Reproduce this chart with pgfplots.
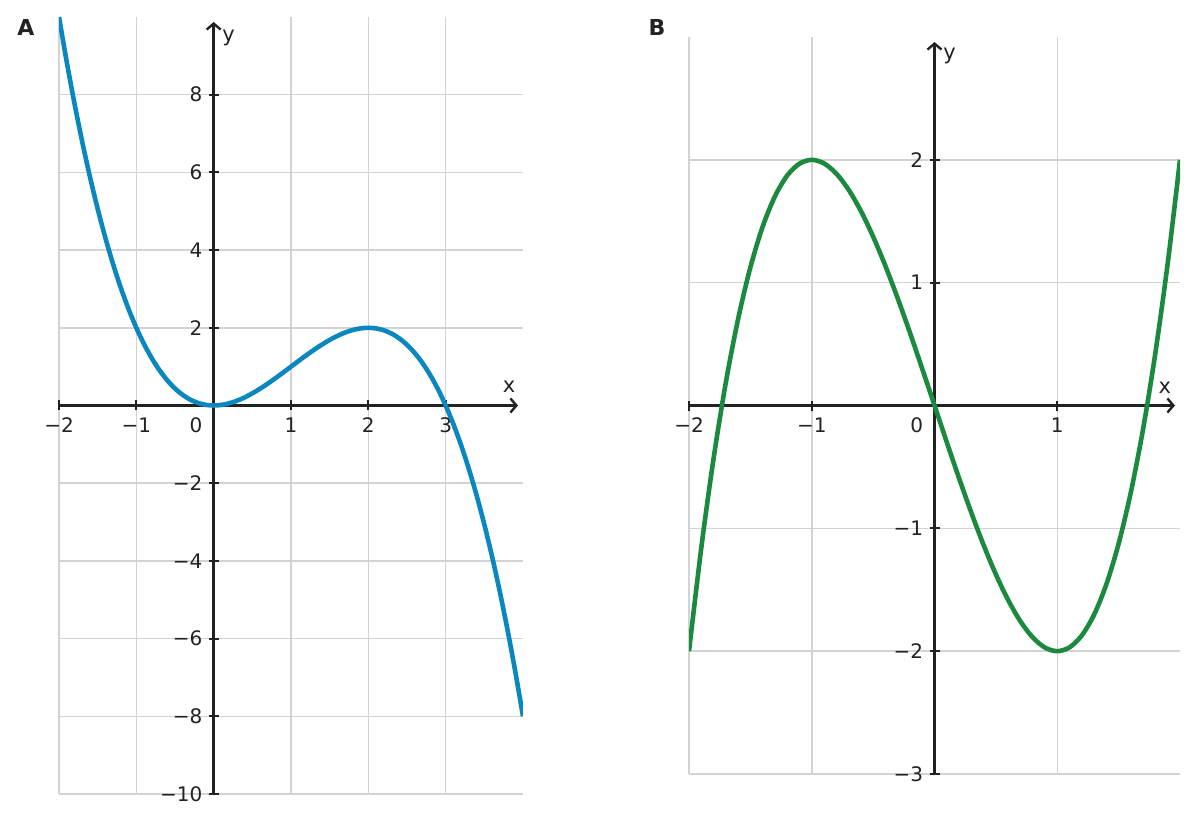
\documentclass[border=0pt]{standalone}
\usepackage{pgfplots}
\pgfplotsset{compat=1.18}
\usepackage{fontspec}
\setmainfont{DejaVu Sans}
\usetikzlibrary{arrows.meta}

\definecolor{ink}{HTML}{222222}
\definecolor{gridgray}{HTML}{D3D3D3}
\definecolor{curveblue}{HTML}{0A87BF}
\definecolor{curvegreen}{HTML}{1B8A3E}

\pgfplotsset{
  panel/.style={
    scale only axis,
    axis lines=middle,
    x axis line style={ink, line width=1.35pt, -{Straight Barb[length=3pt,width=7pt,line width=1.2pt]}, shorten >=2.5pt},
    y axis line style={ink, line width=1.35pt, -{Straight Barb[length=3pt,width=7pt,line width=1.2pt]}, shorten >=2.5pt},
    grid=major,
    major grid style={gridgray, line width=0.75pt},
    major tick style={ink, line width=1pt},
    major tick length=5pt,
    tick align=center,
    ticklabel style={font=\fontsize{10}{12}\selectfont, text=ink, inner sep=0pt},
    xticklabel style={anchor=north, yshift=-3.5pt},
    yticklabel style={anchor=east, xshift=-3pt},
    label style={font=\fontsize{10.5}{12}\selectfont, text=ink, inner sep=0pt},
    clip=true,
  },
}

\begin{document}
\begin{tikzpicture}
\useasboundingbox (0,0) rectangle (598.5pt,-411.5pt);

% panel A
\begin{axis}[panel,
  at={(29.5pt,-8.5pt)}, anchor=north west,
  width=232pt, height=388.5pt,
  xmin=-2, xmax=4, ymin=-10, ymax=10,
  xtick={-2,-1,0,1,2,3},
  xticklabels={−2,−1,,1,2,3},
  ytick={-10,-8,-6,-4,-2,0,2,4,6,8},
  yticklabels={−10,−8,−6,−4,−2,,2,4,6,8},
  xlabel={x}, xlabel style={at={(rel axis cs:0.970,0.5)}, anchor=base, yshift=6.5pt},
  ylabel={y}, ylabel style={at={(rel axis cs:0.351,0.969)}, anchor=base west, rotate=0},
]
\addplot[curveblue, line width=2.3pt, smooth] coordinates {
  (-2.0,10) (-1.9,8.8445) (-1.8,7.776) (-1.7,6.7915) (-1.6,5.888) (-1.5,5.0625)
  (-1.4,4.312) (-1.3,3.6335) (-1.2,3.024) (-1.1,2.4805) (-1.0,2)
  (-0.9,1.5795) (-0.8,1.216) (-0.7,0.9065) (-0.6,0.648) (-0.5,0.4375)
  (-0.4,0.272) (-0.3,0.1485) (-0.2,0.064) (-0.1,0.0155) (0,0)
  (0.1,0.0145) (0.2,0.056) (0.3,0.1215) (0.4,0.208) (0.5,0.3125)
  (0.6,0.432) (0.7,0.5635) (0.8,0.704) (0.9,0.8505) (1.0,1)
  (1.1,1.1495) (1.2,1.296) (1.3,1.4365) (1.4,1.568) (1.5,1.6875)
  (1.6,1.792) (1.7,1.8785) (1.8,1.944) (1.9,1.9855) (2.0,2)
  (2.1,1.9845) (2.2,1.936) (2.3,1.8515) (2.4,1.728) (2.5,1.5625)
  (2.6,1.352) (2.7,1.0935) (2.8,0.784) (2.9,0.4205) (3.0,0)
  (3.1,-0.4805) (3.2,-1.024) (3.3,-1.6335) (3.4,-2.312) (3.5,-3.0625)
  (3.6,-3.888) (3.7,-4.7915) (3.8,-5.776) (3.9,-6.8445) (4.0,-8)
};
\node[anchor=north east, inner sep=0pt, xshift=-5.5pt, yshift=-6pt,
  font=\fontsize{10}{12}\selectfont, text=ink] at (axis cs:0,0) {0};
\end{axis}

% panel B
\begin{axis}[panel,
  at={(344.5pt,-18.5pt)}, anchor=north west,
  width=245.5pt, height=368.5pt,
  xmin=-2, xmax=2, ymin=-3, ymax=3,
  xtick={-2,-1,0,1},
  xticklabels={−2,−1,,1},
  ytick={-3,-2,-1,0,1,2},
  yticklabels={−3,−2,−1,,1,2},
  xlabel={x}, xlabel style={at={(rel axis cs:0.969,0.5)}, anchor=base, yshift=6pt},
  ylabel={y}, ylabel style={at={(rel axis cs:0.517,0.970)}, anchor=base west, rotate=0},
]
\addplot[curvegreen, line width=2.3pt, smooth] coordinates {
  (-2.0,-2) (-1.9,-1.159) (-1.8,-0.432) (-1.7,0.187) (-1.6,0.704) (-1.5,1.125)
  (-1.4,1.456) (-1.3,1.703) (-1.2,1.872) (-1.1,1.969) (-1.0,2)
  (-0.9,1.971) (-0.8,1.888) (-0.7,1.757) (-0.6,1.584) (-0.5,1.375)
  (-0.4,1.136) (-0.3,0.873) (-0.2,0.592) (-0.1,0.299) (0,0)
  (0.1,-0.299) (0.2,-0.592) (0.3,-0.873) (0.4,-1.136) (0.5,-1.375)
  (0.6,-1.584) (0.7,-1.757) (0.8,-1.888) (0.9,-1.971) (1.0,-2)
  (1.1,-1.969) (1.2,-1.872) (1.3,-1.703) (1.4,-1.456) (1.5,-1.125)
  (1.6,-0.704) (1.7,-0.187) (1.8,0.432) (1.9,1.159) (2.0,2)
};
\node[anchor=north east, inner sep=0pt, xshift=-5.5pt, yshift=-6pt,
  font=\fontsize{10}{12}\selectfont, text=ink] at (axis cs:0,0) {0};
\end{axis}

\node[font=\bfseries\fontsize{11}{13}\selectfont, text=ink] at (13pt,-13.5pt) {A};
\node[font=\bfseries\fontsize{11}{13}\selectfont, text=ink] at (328.5pt,-13.5pt) {B};
\end{tikzpicture}
\end{document}
